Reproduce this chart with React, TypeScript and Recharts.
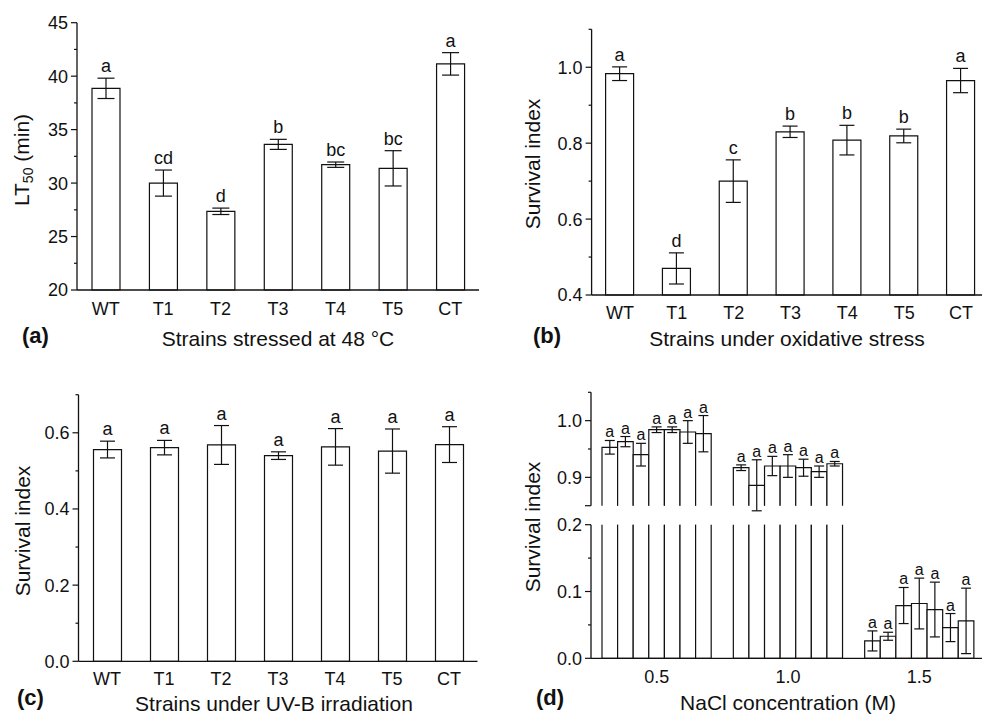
import React from "react";
import { BarChart, Bar, XAxis, YAxis, ErrorBar, LabelList } from "recharts";

const FONT = '"Liberation Sans", Arial, Helvetica, sans-serif';
const INK = "#111";

const strains = ["WT", "T1", "T2", "T3", "T4", "T5", "CT"];

// (a) LT50 at 48 °C
const heatLT50 = [38.86, 30.0, 27.36, 33.62, 31.72, 31.38, 41.15];
const heatErr = [0.95, 1.22, 0.3, 0.47, 0.25, 1.65, 1.05];
const heatLetters = ["a", "cd", "d", "b", "bc", "bc", "a"];
const heatTicks = [20, 22.5, 25, 27.5, 30, 32.5, 35, 37.5, 40, 42.5, 45];
const heatMajor = [20, 25, 30, 35, 40, 45];

// (b) oxidative stress
const oxSurvival = [0.983, 0.47, 0.7, 0.83, 0.808, 0.819, 0.965];
const oxErr = [0.018, 0.041, 0.056, 0.015, 0.039, 0.018, 0.032];
const oxLetters = ["a", "d", "c", "b", "b", "b", "a"];
const oxTicks = [0.4, 0.5, 0.6, 0.7, 0.8, 0.9, 1.0, 1.1];
const oxMajor = [0.4, 0.6, 0.8, 1.0];

// (c) UV-B
const uvSurvival = [0.556, 0.561, 0.568, 0.54, 0.563, 0.552, 0.569];
const uvErr = [0.022, 0.019, 0.051, 0.01, 0.048, 0.058, 0.047];
const uvLetters = ["a", "a", "a", "a", "a", "a", "a"];
const uvTicks = [0, 0.1, 0.2, 0.3, 0.4, 0.5, 0.6, 0.7];
const uvMajor = [0, 0.2, 0.4, 0.6];

// (d) NaCl, one list per concentration, strains in order WT..CT
const naclConc = ["0.5", "1.0", "1.5"];
const nacl05 = [0.953, 0.963, 0.94, 0.984, 0.984, 0.98, 0.977];
const nacl05Err = [0.012, 0.009, 0.02, 0.005, 0.005, 0.02, 0.032];
const nacl10 = [0.917, 0.886, 0.92, 0.92, 0.917, 0.91, 0.924];
const nacl10Err = [0.005, 0.045, 0.017, 0.02, 0.015, 0.01, 0.004];
const nacl15 = [0.026, 0.033, 0.079, 0.082, 0.073, 0.046, 0.056];
const nacl15Err = [0.015, 0.006, 0.027, 0.038, 0.041, 0.021, 0.049];
const naclLetters = ["a", "a", "a", "a", "a", "a", "a"];
const upperTicks = [0.85, 0.9, 0.95, 1.0, 1.05];
const upperMajor = [0.85, 0.9, 1.0];
const upperLabeled = [0.9, 1.0];
const lowerTicks = [0, 0.05, 0.1, 0.15, 0.2];
const lowerMajor = [0, 0.1, 0.2];

const strainRows = (values: number[], errs: number[], letters: string[]) =>
  strains.map((name, i) => ({ name, value: values[i], err: errs[i], letter: letters[i] }));

const heatRows = strainRows(heatLT50, heatErr, heatLetters);
const oxRows = strainRows(oxSurvival, oxErr, oxLetters);
const uvRows = strainRows(uvSurvival, uvErr, uvLetters);

const naclValues = [nacl05, nacl10, nacl15];
const naclErrs = [nacl05Err, nacl10Err, nacl15Err];

// rows for one section of the broken axis; errors/letters only where the bar top is inside
const naclRows = (lo: number, hi: number) =>
  naclConc.map((conc, g) => {
    const row: any = { conc };
    strains.forEach((_, i) => {
      const v = naclValues[g][i];
      const inside = v >= lo && v <= hi;
      row[`v${i}`] = v;
      row[`e${i}`] = inside ? naclErrs[g][i] : null;
      row[`l${i}`] = inside ? naclLetters[i] : "";
    });
    return row;
  });

const upperRows = naclRows(0.85, 1.05);
const lowerRows = naclRows(0, 0.2);

const near = (arr: number[], v: number) => arr.some(m => Math.abs(m - v) < 1e-6);

function yTick(major: number[], labeled: number[], digits: number) {
  return (props: any) => {
    const { x, y, payload } = props;
    const v = payload.value;
    const len = near(major, v) ? 6 : 3;
    return (
      <g>
        <line x1={x - len} x2={x} y1={y} y2={y} stroke={INK} strokeWidth={1.2} />
        {near(labeled, v) && (
          <text x={x - 9} y={y} dy="0.36em" textAnchor="end" fontSize={18} fontFamily={FONT} fill={INK}>
            {v.toFixed(digits)}
          </text>
        )}
      </g>
    );
  };
}

// significance letter placed above the error bar top
function letterLabel(rows: any[], valueKey: string, errKey: string, base: number, gap: number, size: number) {
  return (props: any) => {
    const vb = props.viewBox || props;
    const row = rows[props.index];
    if (!row || !props.value) return null;
    const v = row[valueKey];
    const e = row[errKey] || 0;
    const k = vb.height / (v - base);
    const top = vb.y - e * k;
    return (
      <text x={vb.x + vb.width / 2} y={top - gap} textAnchor="middle" fontSize={size} fontFamily={FONT} fill={INK}>
        {props.value}
      </text>
    );
  };
}

const OpenBottomBar = (props: any) => {
  const { x, y, width, height } = props;
  if (!(height > 0)) return null;
  return (
    <path
      d={`M${x},${y + height + 3}V${y}H${x + width}V${y + height + 3}`}
      fill="#fff"
      stroke={INK}
      strokeWidth={1.2}
    />
  );
};

const axisLine = { stroke: INK, strokeWidth: 1.3 };
const xTickStyle = { fill: INK, fontSize: 18, fontFamily: FONT };

function StrainPanel({ rows, left, top, width, margin, domain, ticks, major, digits, base, capWidth, tickMargin }: any) {
  return (
    <div style={{ position: "absolute", left, top }}>
      <BarChart width={width} height={359} data={rows} margin={margin} barSize={28}>
        <XAxis
          dataKey="name"
          height={30}
          tickLine={false}
          tickSize={0}
          tickMargin={tickMargin}
          axisLine={axisLine}
          tick={xTickStyle}
          interval={0}
        />
        <YAxis
          width={60}
          type="number"
          domain={domain}
          ticks={ticks}
          interval={0}
          tickLine={false}
          tickSize={0}
          tickMargin={0}
          axisLine={axisLine}
          tick={yTick(major, major, digits)}
        />
        <Bar dataKey="value" fill="#fff" stroke={INK} strokeWidth={1.2} isAnimationActive={false}>
          <ErrorBar dataKey="err" width={capWidth} stroke={INK} strokeWidth={1.2} />
          <LabelList dataKey="letter" content={letterLabel(rows, "value", "err", base, 6, 18)} />
        </Bar>
      </BarChart>
    </div>
  );
}

function NaclSection({ rows, margin, domain, ticks, major, labeled, base, upper }: any) {
  return (
    <div style={{ position: "absolute", left: 491, top: 359 }}>
      <BarChart width={500} height={359} data={rows} margin={margin} barSize={15.6} barGap={0} barCategoryGap={0}>
        <XAxis
          dataKey="conc"
          hide={upper}
          height={upper ? 0 : 30}
          tickLine={false}
          tickSize={0}
          tickMargin={12}
          axisLine={axisLine}
          tick={xTickStyle}
          interval={0}
        />
        <YAxis
          width={60}
          type="number"
          domain={domain}
          allowDataOverflow
          ticks={ticks}
          interval={0}
          tickLine={false}
          tickSize={0}
          tickMargin={0}
          axisLine={axisLine}
          tick={yTick(major, labeled, 1)}
        />
        {strains.map((s, i) => (
          <Bar
            key={s}
            dataKey={`v${i}`}
            fill="#fff"
            stroke={INK}
            strokeWidth={1.2}
            isAnimationActive={false}
            shape={upper ? OpenBottomBar : undefined}
          >
            <ErrorBar dataKey={`e${i}`} width={5} stroke={INK} strokeWidth={1.2} />
            <LabelList dataKey={`l${i}`} content={letterLabel(rows, `v${i}`, `e${i}`, base, 3, 16)} />
          </Bar>
        ))}
      </BarChart>
    </div>
  );
}

export default function App() {
  const txt = { fontFamily: FONT, fill: INK } as const;
  return (
    <div style={{ position: "fixed", left: 0, top: 0, width: 982, height: 718, overflow: "hidden", background: "#fff" }}>
      <StrainPanel
        rows={heatRows}
        left={0}
        top={0}
        width={491}
        margin={{ top: 22.7, right: 12, bottom: 39, left: 17 }}
        domain={[20, 45]}
        ticks={heatTicks}
        major={heatMajor}
        digits={0}
        base={20}
        capWidth={8.5}
        tickMargin={12}
      />
      <StrainPanel
        rows={oxRows}
        left={491}
        top={0}
        width={500}
        margin={{ top: 29.3, right: 1.6, bottom: 34, left: 40.6 }}
        domain={[0.4, 1.1]}
        ticks={oxTicks}
        major={oxMajor}
        digits={1}
        base={0.4}
        capWidth={7.5}
        tickMargin={11}
      />
      <StrainPanel
        rows={uvRows}
        left={0}
        top={359}
        width={491}
        margin={{ top: 35.7, right: 13.5, bottom: 26.7, left: 18.5 }}
        domain={[0, 0.7]}
        ticks={uvTicks}
        major={uvMajor}
        digits={1}
        base={0}
        capWidth={7.5}
        tickMargin={11}
      />
      <NaclSection
        rows={upperRows}
        upper
        margin={{ top: 33.3, right: 6, bottom: 212.3, left: 40 }}
        domain={[0.85, 1.05]}
        ticks={upperTicks}
        major={upperMajor}
        labeled={upperLabeled}
        base={0.85}
      />
      <NaclSection
        rows={lowerRows}
        upper={false}
        margin={{ top: 165.7, right: 6, bottom: 29.7, left: 40 }}
        domain={[0, 0.2]}
        ticks={lowerTicks}
        major={lowerMajor}
        labeled={lowerMajor}
        base={0}
      />
      <svg width={982} height={718} style={{ position: "absolute", left: 0, top: 0, pointerEvents: "none" }}>
        {/* panel (a) */}
        <text {...txt} transform="translate(29,160) rotate(-90)" textAnchor="middle" fontSize={21}>
          LT<tspan fontSize={14} dy={4}>50</tspan>
          <tspan dy={-4}> (min)</tspan>
        </text>
        <text {...txt} x={278} y={346} textAnchor="middle" fontSize={21}>Strains stressed at 48 °C</text>
        <text {...txt} x={22} y={343} fontSize={22} fontWeight="bold">(a)</text>
        {/* panel (b) */}
        <text {...txt} transform="translate(540,164) rotate(-90)" textAnchor="middle" fontSize={21}>Survival index</text>
        <text {...txt} x={787} y={346} textAnchor="middle" fontSize={21}>Strains under oxidative stress</text>
        <text {...txt} x={533} y={343} fontSize={22} fontWeight="bold">(b)</text>
        {/* panel (c) */}
        <text {...txt} transform="translate(30,531) rotate(-90)" textAnchor="middle" fontSize={21}>Survival index</text>
        <text {...txt} x={274} y={711} textAnchor="middle" fontSize={21}>Strains under UV-B irradiation</text>
        <text {...txt} x={17} y={705} fontSize={22} fontWeight="bold">(c)</text>
        {/* panel (d) */}
        <text {...txt} transform="translate(540,527) rotate(-90)" textAnchor="middle" fontSize={21}>Survival index</text>
        <text {...txt} x={788} y={710} textAnchor="middle" fontSize={21}>NaCl concentration (M)</text>
        <text {...txt} x={536} y={705} fontSize={22} fontWeight="bold">(d)</text>
      </svg>
    </div>
  );
}
